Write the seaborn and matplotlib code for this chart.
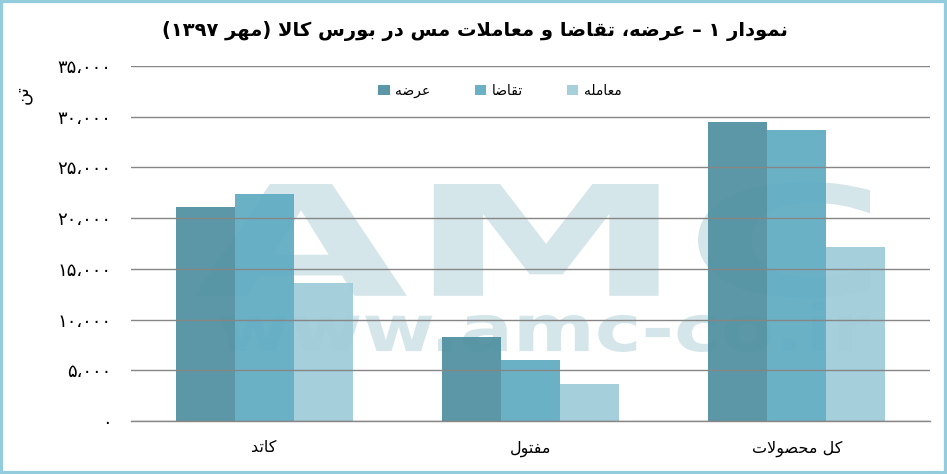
import re

import matplotlib
matplotlib.use("Agg")
import matplotlib.pyplot as plt
import pandas as pd
import seaborn as sns
from matplotlib.font_manager import FontProperties
from matplotlib.patches import PathPatch, Rectangle
from matplotlib.textpath import TextPath
from matplotlib.ticker import FixedLocator, FuncFormatter
from matplotlib.transforms import Affine2D

# data (tonnes)
categories = ["کاتد", "مفتول", "کل محصولات"]
series = ["عرضه", "تقاضا", "معامله"]
supply = [21100, 8300, 29500]
demand = [22400, 6000, 28700]
traded = [13600, 3650, 17150]

title_text = "نمودار ۱ – عرضه، تقاضا و معاملات مس در بورس کالا (مهر ۱۳۹۷)"
ylabel_text = "تن"
colors = ["#4d8e9f", "#5dabc2", "#9ecbd8"]

# minimal Persian shaping: matplotlib draws no joined / RTL text by itself
FORMS = {
    "ا": ("\uFE8D", "\uFE8E", None, None),
    "ب": ("\uFE8F", "\uFE90", "\uFE91", "\uFE92"),
    "ت": ("\uFE95", "\uFE96", "\uFE97", "\uFE98"),
    "ح": ("\uFEA1", "\uFEA2", "\uFEA3", "\uFEA4"),
    "د": ("\uFEA9", "\uFEAA", None, None),
    "ر": ("\uFEAD", "\uFEAE", None, None),
    "س": ("\uFEB1", "\uFEB2", "\uFEB3", "\uFEB4"),
    "ص": ("\uFEB9", "\uFEBA", "\uFEBB", "\uFEBC"),
    "ض": ("\uFEBD", "\uFEBE", "\uFEBF", "\uFEC0"),
    "ع": ("\uFEC9", "\uFECA", "\uFECB", "\uFECC"),
    "ف": ("\uFED1", "\uFED2", "\uFED3", "\uFED4"),
    "ق": ("\uFED5", "\uFED6", "\uFED7", "\uFED8"),
    "ک": ("\uFB8E", "\uFB8F", "\uFB90", "\uFB91"),
    "ل": ("\uFEDD", "\uFEDE", "\uFEDF", "\uFEE0"),
    "م": ("\uFEE1", "\uFEE2", "\uFEE3", "\uFEE4"),
    "ن": ("\uFEE5", "\uFEE6", "\uFEE7", "\uFEE8"),
    "ه": ("\uFEE9", "\uFEEA", "\uFEEB", "\uFEEC"),
    "و": ("\uFEED", "\uFEEE", None, None),
}


def dual(c):
    return c in FORMS and FORMS[c][2] is not None


def shape(text):
    out = []
    i, n = 0, len(text)
    while i < n:
        c = text[i]
        if c not in FORMS:
            out.append(c)
            i += 1
            continue
        prev_join = i > 0 and dual(text[i - 1])
        if c == "ل" and i + 1 < n and text[i + 1] == "ا":
            out.append("\uFEFC" if prev_join else "\uFEFB")
            i += 2
            continue
        next_join = dual(c) and i + 1 < n and text[i + 1] in FORMS
        iso, fin, ini, med = FORMS[c]
        if prev_join and next_join:
            out.append(med)
        elif prev_join:
            out.append(fin)
        elif next_join:
            out.append(ini)
        else:
            out.append(iso)
        i += 1
    return "".join(out)


def fa(text):
    s = shape(text)[::-1]
    s = re.sub("[۰-۹،]+", lambda m: m.group(0)[::-1], s)
    return s.translate(str.maketrans("()", ")("))


def fa_num(v, _pos=None):
    s = f"{int(round(v)):,}"
    return s.translate(str.maketrans("0123456789,", "۰۱۲۳۴۵۶۷۸۹،"))


def add_watermark(fig, ax, text, box, color):
    W, H = fig.bbox.width, fig.bbox.height
    x0, y0, x1, y1 = box  # pixels, top-left origin
    path = TextPath((0, 0), text, size=100, prop=FontProperties(family="DejaVu Sans", weight="bold"))
    bb = path.get_extents()
    trf = (Affine2D()
           .translate(-bb.x0, -bb.y0)
           .scale((x1 - x0) / bb.width / W, (y1 - y0) / bb.height / H)
           .translate(x0 / W, 1 - y1 / H))
    patch = PathPatch(path, transform=trf + fig.transFigure, facecolor=color,
                      edgecolor="none", zorder=0.5)
    patch.set_clip_on(False)
    ax.add_patch(patch)


def main():
    sns.set_style("white")
    plt.rcParams["font.family"] = ["DejaVu Sans"]
    plt.rcParams["text.color"] = "black"
    plt.rcParams["xtick.color"] = "black"
    plt.rcParams["ytick.color"] = "black"

    rows = []
    for name, vals in zip(series, [supply, demand, traded]):
        for cat, v in zip(categories, vals):
            rows.append({"cat": fa(cat), "series": fa(name), "value": v})
    df = pd.DataFrame(rows)

    fig = plt.figure(figsize=(9.47, 4.74), dpi=100)
    ax = fig.add_axes([131 / 947, 1 - 421 / 474, (930 - 131) / 947, (421 - 66) / 474])

    add_watermark(fig, ax, "AMC", (195, 182, 870, 298), "#d5e6eb")
    add_watermark(fig, ax, "www.amc-co.ir", (220, 302, 870, 352), "#d5e6eb")

    sns.barplot(data=df, x="cat", y="value", hue="series", palette=colors,
                width=0.665, saturation=1, alpha=0.92, linewidth=0,
                edgecolor="none", ax=ax)

    ax.set_ylim(0, 35000)
    ax.set_xlim(-0.5, 2.5)
    ax.set_yticks(range(0, 35001, 5000))
    ax.yaxis.set_major_formatter(FuncFormatter(fa_num))
    ax.tick_params(axis="y", length=0, pad=14, labelsize=13, labelcolor="black")
    ax.grid(axis="y", color="#868686", linewidth=1)
    ax.set_axisbelow(False)

    ax.xaxis.set_major_locator(FixedLocator([-0.5, 0.5, 1.5, 2.5]))
    ax.xaxis.set_minor_locator(FixedLocator([0, 1, 2]))
    ax.set_xticklabels([])
    ax.set_xticklabels([fa(c) for c in categories], minor=True)
    ax.tick_params(axis="x", which="major", length=8, width=1, color="#868686", direction="out")
    ax.tick_params(axis="x", which="minor", length=0, pad=14, labelsize=11.5, labelcolor="black")
    ax.set_xlabel("")
    ax.set_ylabel("")

    for side in ["top", "right", "left"]:
        ax.spines[side].set_visible(False)
    ax.spines["bottom"].set_color("#868686")
    ax.spines["bottom"].set_linewidth(1)

    handles, labels = ax.get_legend_handles_labels()
    ax.legend(handles, labels, ncol=3, loc="center", bbox_to_anchor=(500 / 947, 1 - 91 / 474),
              bbox_transform=fig.transFigure, frameon=False, fontsize=10,
              handlelength=0.8, handleheight=0.8, handletextpad=0.4, columnspacing=3.2)

    fig.text(475 / 947, 1 - 31 / 474, fa(title_text), ha="center", va="center",
             fontsize=14, fontweight="bold", color="black")
    fig.text(23 / 947, 1 - 95 / 474, fa(ylabel_text), ha="center", va="center",
             rotation=90, fontsize=13, color="black")

    fig.add_artist(Rectangle((0, 0), 1, 1, transform=fig.transFigure, fill=False,
                             edgecolor="#93cddd", linewidth=4.5))

    fig.savefig("out.png", dpi=100)
    plt.close(fig)


if __name__ == "__main__":
    main()
